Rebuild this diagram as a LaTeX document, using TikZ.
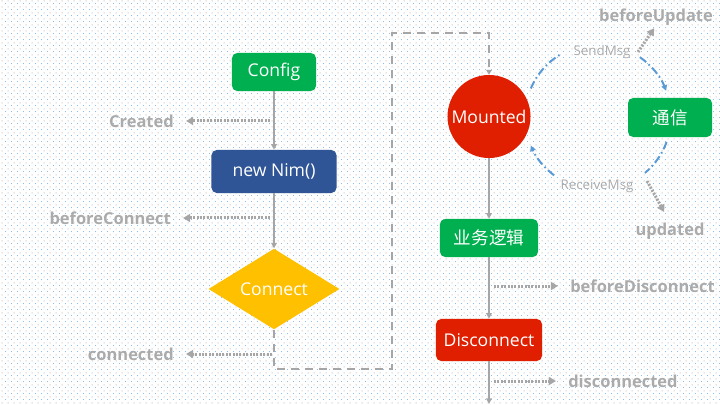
\documentclass[tikz,border=0pt]{standalone}
\usepackage{fontspec}
\setmainfont{Open Sans}
\newfontfamily\cjk{Noto Sans CJK SC}
\usetikzlibrary{arrows.meta,shapes.geometric,patterns,calc}

\definecolor{cgreen}{HTML}{00B050}
\definecolor{cblue}{HTML}{2F5597}
\definecolor{cyellow}{HTML}{FFC000}
\definecolor{cred}{HTML}{DF1F00}
\definecolor{cline}{HTML}{A6A6A6}
\definecolor{ctext}{HTML}{ABABAB}
\definecolor{cmsg}{HTML}{5B9BD5}
\definecolor{dotblue}{HTML}{8CBFEA}
\definecolor{dotgrey}{HTML}{C4C4C4}

\pgfdeclarepatterninherentlycolored{bgdots}{\pgfpointorigin}{\pgfqpoint{4.27pt}{4.27pt}}{\pgfqpoint{4.27pt}{4.27pt}}{%
  \pgfsetfillcolor{dotblue}%
  \pgfpathrectangle{\pgfqpoint{0pt}{0pt}}{\pgfqpoint{0.8pt}{0.8pt}}%
  \pgfusepath{fill}%
  \pgfsetfillcolor{dotgrey}%
  \pgfpathrectangle{\pgfqpoint{2.13pt}{2.13pt}}{\pgfqpoint{0.8pt}{0.8pt}}%
  \pgfusepath{fill}%
}

\tikzset{
  box/.style={rectangle, rounded corners=0.13cm, text=white, inner sep=0pt,
    font=\fontsize{12.5}{14}\selectfont},
  flow/.style={draw=cline, line width=0.05cm, -{Triangle[length=0.14cm,width=0.14cm]}},
  hook/.style={draw=cline, line width=0.075cm, dash pattern=on 0.05cm off 0.035cm,
    -{Triangle[length=0.18cm,width=0.2cm]}, shorten >=0.3cm},
  lab/.style={text=ctext, font=\bfseries\fontsize{11.7}{13}\selectfont, inner sep=0pt},
  loopline/.style={draw=cline, line width=0.055cm, dash pattern=on 0.2cm off 0.15cm},
  msg/.style={draw=cmsg, line width=0.05cm, dash pattern=on 0.2cm off 0.08cm on 0.04cm off 0.08cm},
  msgtip/.style={-{Triangle[length=0.14cm,width=0.14cm]}},
  msglab/.style={text=ctext, font=\fontsize{9.5}{11}\selectfont, inner sep=0pt}
}

\begin{document}
\begin{tikzpicture}[x=0.025cm, y=-0.025cm]
\fill[white] (0,0) rectangle (720,405);
\fill[pattern=bgdots] (0,0) rectangle (720,405);
\useasboundingbox (0,0) rectangle (720,405);

% nodes
\node[box, fill=cgreen, minimum width=2.1cm, minimum height=0.95cm] (config) at (274,72) {Config};
\node[box, fill=cblue, minimum width=3.125cm, minimum height=1.075cm] (nim) at (274,171.5) {new Nim()};
\node[diamond, fill=cyellow, text=white, inner sep=0pt, minimum width=3.275cm, minimum height=2cm,
  font=\fontsize{12.5}{14}\selectfont] (connect) at (274,289) {Connect};
\node[circle, fill=cred, text=white, inner sep=0pt, minimum size=2.075cm,
  font=\fontsize{12.5}{14}\selectfont] (mounted) at (489,116.5) {Mounted};
\node[box, fill=cgreen, minimum width=2.45cm, minimum height=0.95cm] (logic) at (489,238) {\cjk 业务逻辑};
\node[box, fill=cred, minimum width=2.65cm, minimum height=1.05cm] (disc) at (489,340) {Disconnect};
\node[box, fill=cgreen, minimum width=2.1cm, minimum height=0.975cm] (tx) at (670,117.5) {\cjk 通信};

% labels
\node[lab, anchor=east] (created) at (174,121) {Created};
\node[lab, anchor=east] (bconn) at (171,218) {beforeConnect};
\node[lab, anchor=east] (conned) at (174,354) {connected};
\node[lab, anchor=west] (bdisc) at (570,286) {beforeDisconnect};
\node[lab, anchor=west] (disced) at (568,381) {disconnected};
\node[lab] (bupd) at (656,17) {beforeUpdate};
\node[lab] (upd) at (670,231) {updated};
\node[msglab] (send) at (602,52) {SendMsg};
\node[msglab] (recv) at (597,186) {ReceiveMsg};

% main flow
\draw[flow] (config) -- (nim);
\draw[flow] (nim) -- (connect);
\draw[flow] (mounted) -- (logic);
\draw[flow] (logic) -- (disc);
\coordinate (bottom) at (489,404);
\draw[flow] (disc) -- (bottom);

% dashed loop
\coordinate (l1) at (274,369);
\coordinate (l2) at (392,369);
\coordinate (l3) at (392,33);
\coordinate (l4) at (489,33);
\draw[loopline, -{Triangle[length=0.12cm,width=0.14cm]}] (connect.south) -- (l1) -- (l2) -- (l3) -- (l4) -- (mounted.north);

% hooks
\coordinate (h1) at (270,121);
\coordinate (h2) at (270,218);
\coordinate (h3) at (272,354);
\coordinate (h4) at (494,286);
\coordinate (h5) at (494,381);
\coordinate (h6) at (638,52);
\coordinate (h7) at (647,181);
\draw[hook] (h1) -- (created.east);
\draw[hook] (h2) -- (bconn.east);
\draw[hook] (h3) -- (conned.east);
\draw[hook] (h4) -- (bdisc.west);
\draw[hook] (h5) -- (disced.west);
\draw[hook, shorten >=0.08cm] (h6) -- (bupd.south);
\draw[hook] (h7) -- (upd.north);

% message arcs
\coordinate (cc) at (598,117);
\coordinate (s1) at ($(cc)+(157:1.825cm)$);
\coordinate (s2) at ($(cc)+(55:1.825cm)$);
\coordinate (r1) at ($(cc)+(-20:1.825cm)$);
\coordinate (r2) at ($(cc)+(-127:1.825cm)$);
\draw[msg] (s1) arc[start angle=157, end angle=121, radius=1.825cm];
\draw[msg, msgtip] (s2) arc[start angle=55, end angle=21, radius=1.825cm];
\draw[msg] (r1) arc[start angle=-20, end angle=-50, radius=1.825cm];
\draw[msg, msgtip] (r2) arc[start angle=-127, end angle=-157, radius=1.825cm];
\end{tikzpicture}
\end{document}
